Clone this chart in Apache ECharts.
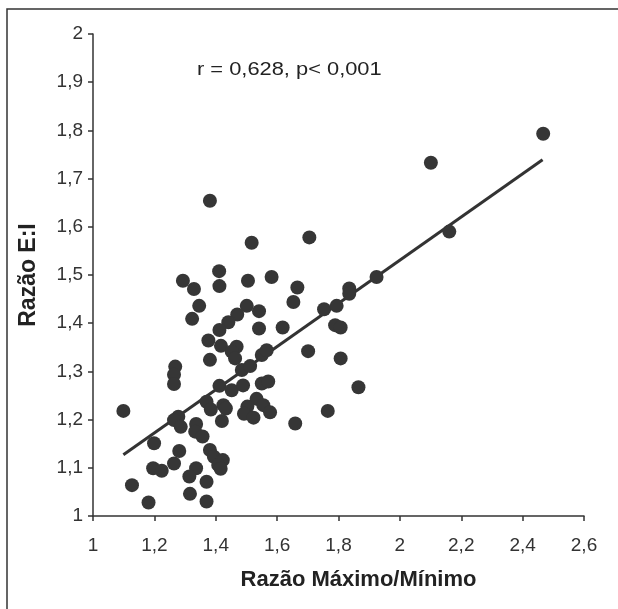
<!DOCTYPE html>
<html>
<head>
<meta charset="utf-8">
<script src="https://cdn.jsdelivr.net/npm/echarts@6/dist/echarts.min.js"></script>
<style>html,body{margin:0;padding:0;background:#fff;}#c{width:618px;height:609px;}</style>
</head>
<body>
<div id="c"></div>
<script>
var xTicks = [1, 1.2, 1.4, 1.6, 1.8, 2, 2.2, 2.4, 2.6];
var yTicks = [1, 1.1, 1.2, 1.3, 1.4, 1.5, 1.6, 1.7, 1.8, 1.9, 2];
var xTitle = 'Razão Máximo/Mínimo';
var yTitle = 'Razão E:I';
var annotation = 'r = 0,628, p< 0,001';

var ratioMaxMin = [1.381,1.517,1.411,1.412,1.293,1.329,1.505,1.582,1.346,1.323,
1.501,1.470,1.441,1.412,1.541,1.541,1.376,1.417,1.468,1.452,
1.463,1.550,1.381,1.268,1.264,1.264,1.485,1.512,1.412,1.452,
1.489,1.550,1.370,1.384,1.425,1.433,1.533,1.503,1.492,1.523,
1.099,1.278,1.264,1.286,1.336,1.333,1.357,1.420,1.199,1.281,
1.381,1.394,1.423,1.408,1.416,1.264,1.196,1.224,1.336,1.314,
1.370,1.127,1.316,1.370,1.181,1.666,1.653,1.705,1.618,1.753,
1.794,1.835,1.835,1.924,1.789,1.807,1.701,1.807,1.865,1.765,
1.659,1.566,1.571,1.555,1.577,2.467,2.101,2.161];
var ratioEI = [1.654,1.567,1.508,1.477,1.488,1.471,1.488,1.496,1.436,1.409,
1.436,1.418,1.402,1.386,1.425,1.389,1.364,1.353,1.351,1.341,
1.327,1.334,1.324,1.310,1.293,1.274,1.303,1.311,1.270,1.261,
1.271,1.275,1.237,1.221,1.230,1.223,1.243,1.227,1.212,1.204,
1.218,1.206,1.199,1.185,1.191,1.175,1.165,1.197,1.151,1.135,
1.137,1.123,1.116,1.106,1.098,1.109,1.099,1.094,1.099,1.082,
1.071,1.064,1.046,1.030,1.028,1.474,1.444,1.578,1.391,1.429,
1.436,1.472,1.461,1.496,1.396,1.391,1.342,1.327,1.267,1.218,
1.192,1.344,1.279,1.230,1.215,1.793,1.733,1.590];
var fitX = [1.099, 2.465];
var fitY = [1.127, 1.739];

function fmt(v){ var r = Math.round(v*10)/10; return String(r).replace('.', ','); }

var pts = ratioMaxMin.map(function(x,i){ return [x, ratioEI[i]]; });
var fit = fitX.map(function(x,i){ return [x, fitY[i]]; });

var chart = echarts.init(document.getElementById('c'));
var axisCol = '#333';
var font = '"Liberation Sans", Arial, Helvetica, sans-serif';
chart.setOption({
  animation: false,
  backgroundColor: '#fff',
  grid: {left: 93, right: 34, top: 34, bottom: 93, containLabel: false},
  xAxis: {
    type: 'value', min: xTicks[0], max: xTicks[xTicks.length-1], interval: 0.2,
    axisLine: {show: true, onZero: false, lineStyle: {color: axisCol, width: 1.5}},
    axisTick: {show: true, length: 5, inside: false, lineStyle: {color: axisCol, width: 1.5}},
    splitLine: {show: false},
    axisLabel: {color: '#333', fontFamily: font, fontSize: 19, margin: 20, formatter: fmt},
    name: xTitle, nameLocation: 'middle', nameGap: 53,
    nameTextStyle: {color: '#222', fontFamily: font, fontWeight: 'bold', fontSize: 22, padding: [0, 0, 0, 40]}
  },
  yAxis: {
    type: 'value', min: yTicks[0], max: yTicks[yTicks.length-1], interval: 0.1,
    axisLine: {show: true, onZero: false, lineStyle: {color: axisCol, width: 1.5}},
    axisTick: {show: true, length: 5, inside: false, lineStyle: {color: axisCol, width: 1.5}},
    splitLine: {show: false},
    axisLabel: {color: '#333', fontFamily: font, fontSize: 19, margin: 10, formatter: fmt},
    name: yTitle, nameLocation: 'middle', nameGap: 53, nameRotate: 90,
    nameTextStyle: {color: '#222', fontFamily: font, fontWeight: 'bold', fontSize: 23}
  },
  graphic: [
    {type: 'polyline', shape: {points: [[7, 700], [7, 9], [700, 9]]},
     style: {fill: 'none', stroke: '#333', lineWidth: 1.5}, silent: true, z: -1},
    {type: 'text', x: 197, y: 60, scaleX: 1.15, scaleY: 1,
     style: {text: annotation, fill: '#222', font: '19px "Liberation Sans", Arial, sans-serif'}}
  ],
  series: [
    {type: 'scatter', data: pts, symbol: 'circle', symbolSize: 14,
     itemStyle: {color: '#363636', opacity: 1}, z: 3},
    {type: 'line', data: fit, symbol: 'none', showSymbol: false,
     lineStyle: {color: '#333', width: 3}, z: 2}
  ]
});
</script>
</body>
</html>
